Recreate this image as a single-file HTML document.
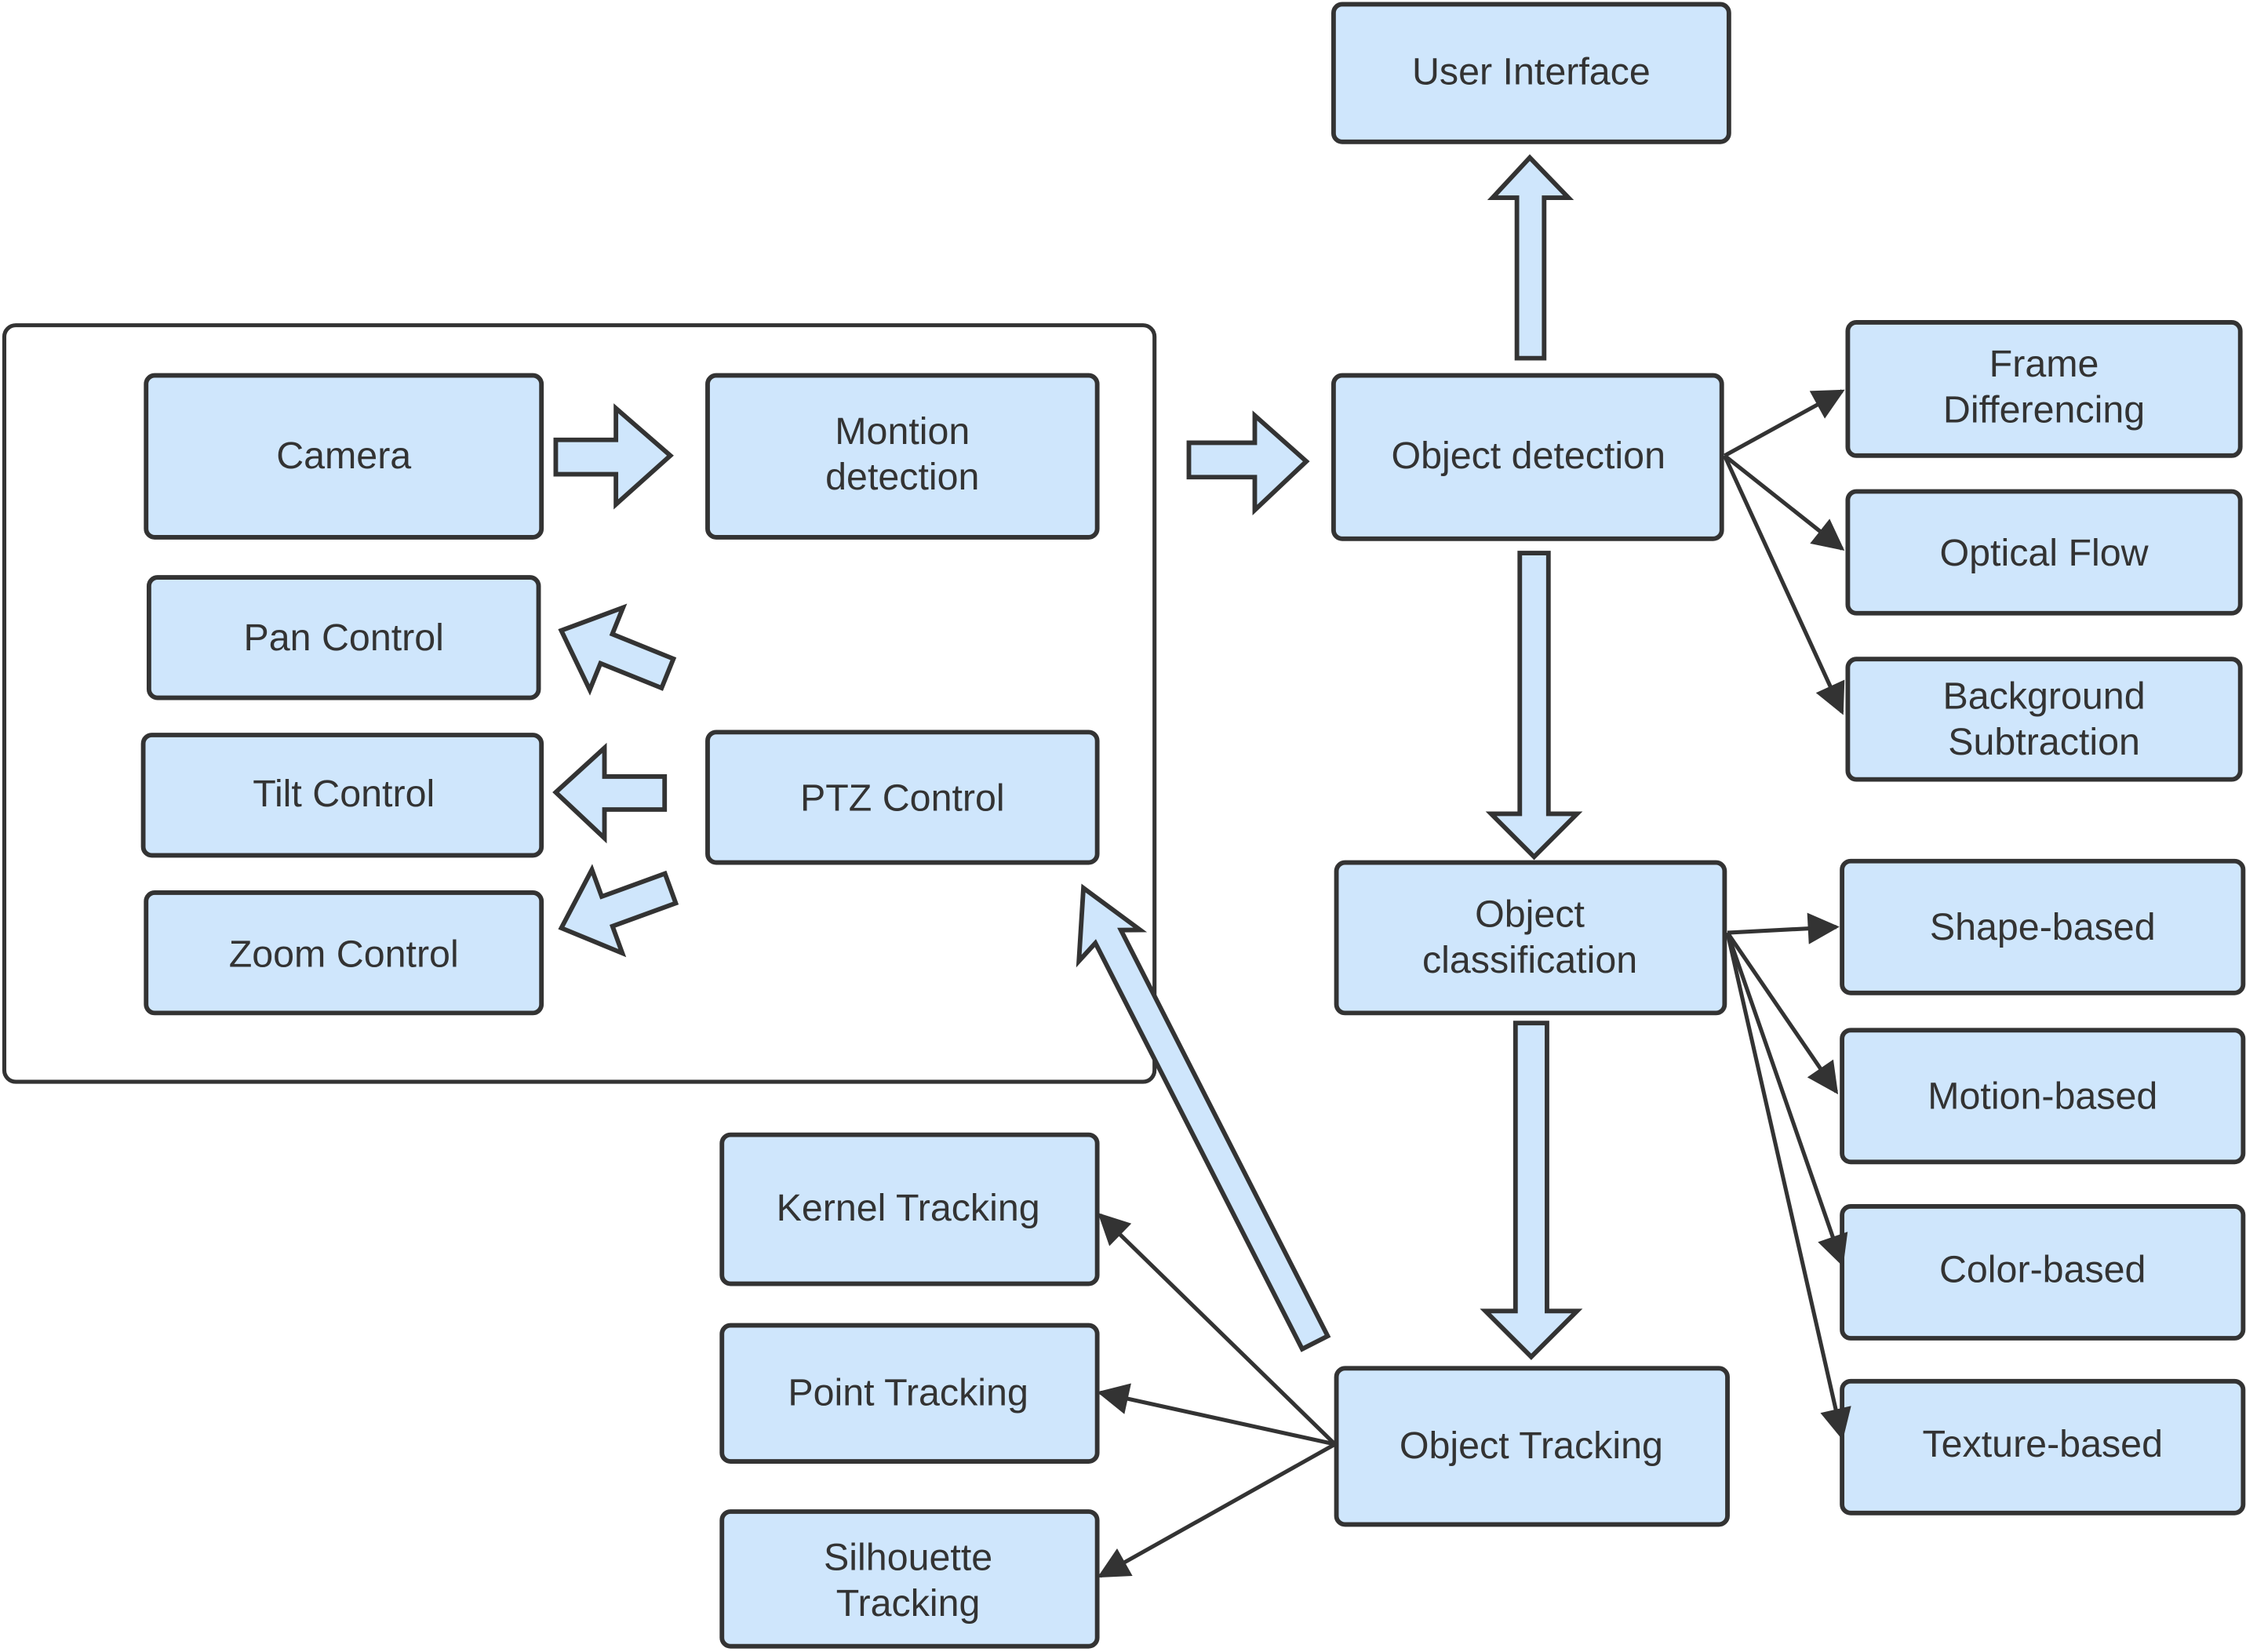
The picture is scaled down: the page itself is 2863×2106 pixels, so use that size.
<!DOCTYPE html>
<html><head><meta charset="utf-8"><style>
html,body{margin:0;padding:0;background:#fff;}
svg{display:block;}
text{font-family:"Liberation Sans","DejaVu Sans",sans-serif;font-size:26.5px;fill:#333;text-anchor:middle;dominant-baseline:central;}
.b{fill:#cfe6fc;stroke:#333;stroke-width:3.2;}
.l{stroke:#333;stroke-width:2.8;fill:none;marker-end:url(#ah2);}
</style></head><body>
<svg width="2863" height="2106" viewBox="0 0 1568 1153" preserveAspectRatio="none" xmlns="http://www.w3.org/2000/svg">
<defs>
<marker id="ah2" viewBox="0 0 10 10" refX="9" refY="5" markerWidth="26" markerHeight="22" orient="auto" markerUnits="userSpaceOnUse"><path d="M0,0 L10,5 L0,10 Z" fill="#333"/></marker>
</defs>
<rect x="3" y="227" width="803" height="528" rx="8" fill="#fff" stroke="#333" stroke-width="2.8"/>

<rect class="b" x="931" y="3" width="276" height="96" rx="6"/><text x="1069" y="50">User Interface</text>
<rect class="b" x="102" y="262" width="276" height="113" rx="6"/><text x="240" y="318">Camera</text>
<rect class="b" x="494" y="262" width="272" height="113" rx="6"/><text x="630" y="301">Montion</text><text x="630" y="333">detection</text>
<rect class="b" x="104" y="403" width="272" height="84" rx="6"/><text x="240" y="445">Pan Control</text>
<rect class="b" x="100" y="513" width="278" height="84" rx="6"/><text x="240" y="554">Tilt Control</text>
<rect class="b" x="102" y="623" width="276" height="84" rx="6"/><text x="240" y="666">Zoom Control</text>
<rect class="b" x="494" y="511" width="272" height="91" rx="6"/><text x="630" y="557">PTZ Control</text>
<rect class="b" x="931" y="262" width="271" height="114" rx="6"/><text x="1067" y="318">Object detection</text>
<rect class="b" x="1290" y="225" width="274" height="93" rx="6"/><text x="1427" y="254">Frame</text><text x="1427" y="286">Differencing</text>
<rect class="b" x="1290" y="343" width="274" height="85" rx="6"/><text x="1427" y="386">Optical Flow</text>
<rect class="b" x="1290" y="460" width="274" height="84" rx="6"/><text x="1427" y="486">Background</text><text x="1427" y="518">Subtraction</text>
<rect class="b" x="933" y="602" width="271" height="105" rx="6"/><text x="1068" y="638">Object</text><text x="1068" y="670">classification</text>
<rect class="b" x="1286" y="601" width="280" height="92" rx="6"/><text x="1426" y="647">Shape-based</text>
<rect class="b" x="1286" y="719" width="280" height="92" rx="6"/><text x="1426" y="765">Motion-based</text>
<rect class="b" x="1286" y="842" width="280" height="92" rx="6"/><text x="1426" y="886">Color-based</text>
<rect class="b" x="1286" y="964" width="280" height="92" rx="6"/><text x="1426" y="1008">Texture-based</text>
<rect class="b" x="933" y="955" width="273" height="109" rx="6"/><text x="1069" y="1009">Object Tracking</text>
<rect class="b" x="504" y="792" width="262" height="104" rx="6"/><text x="634" y="843">Kernel Tracking</text>
<rect class="b" x="504" y="925" width="262" height="95" rx="6"/><text x="634" y="972">Point Tracking</text>
<rect class="b" x="504" y="1055" width="262" height="94" rx="6"/><text x="634" y="1087">Silhouette</text><text x="634" y="1119">Tracking</text>

<polygon class="b" points="388,307 430,307 430,285 468,318 430,352 430,331 388,331"/>
<polygon class="b" points="830,309 876,309 876,290 912,322 876,356 876,333 830,333"/>
<polygon class="b" points="1059,250 1059,138 1042,138 1068,110 1095,138 1078,138 1078,250"/>
<polygon class="b" points="1061,386 1081,386 1081,568 1101,568 1071,598 1041,568 1061,568"/>
<polygon class="b" points="1058,714 1080,714 1080,915 1101,915 1069,947 1037,915 1058,915"/>
<polygon class="b" points="464,542 422,542 422,522 388,553 422,585 422,565 464,565"/>
<polygon class="b" points="0,-11 46,-11 46,-31 80,0 46,31 46,11 0,11" transform="translate(466,470) rotate(202)"/>
<polygon class="b" points="0,-11 47,-11 47,-31 81,0 47,31 47,11 0,11" transform="translate(468,620) rotate(160)"/>
<polygon class="b" points="0,-10 318,-10 312,-26 356,0 312,22 318,10 0,10" transform="translate(918,937) rotate(243)"/>

<line class="l" x1="1204" y1="318" x2="1286" y2="273"/>
<line class="l" x1="1204" y1="318" x2="1286" y2="383"/>
<line class="l" x1="1204" y1="318" x2="1286" y2="497"/>
<line class="l" x1="1206" y1="651" x2="1282" y2="647"/>
<line class="l" x1="1206" y1="651" x2="1282" y2="762"/>
<line class="l" x1="1206" y1="651" x2="1286" y2="882"/>
<line class="l" x1="1206" y1="651" x2="1286" y2="1003"/>
<line class="l" x1="932" y1="1008" x2="768" y2="848"/>
<line class="l" x1="932" y1="1008" x2="768" y2="972"/>
<line class="l" x1="932" y1="1008" x2="768" y2="1100"/>
</svg>
</body></html>
